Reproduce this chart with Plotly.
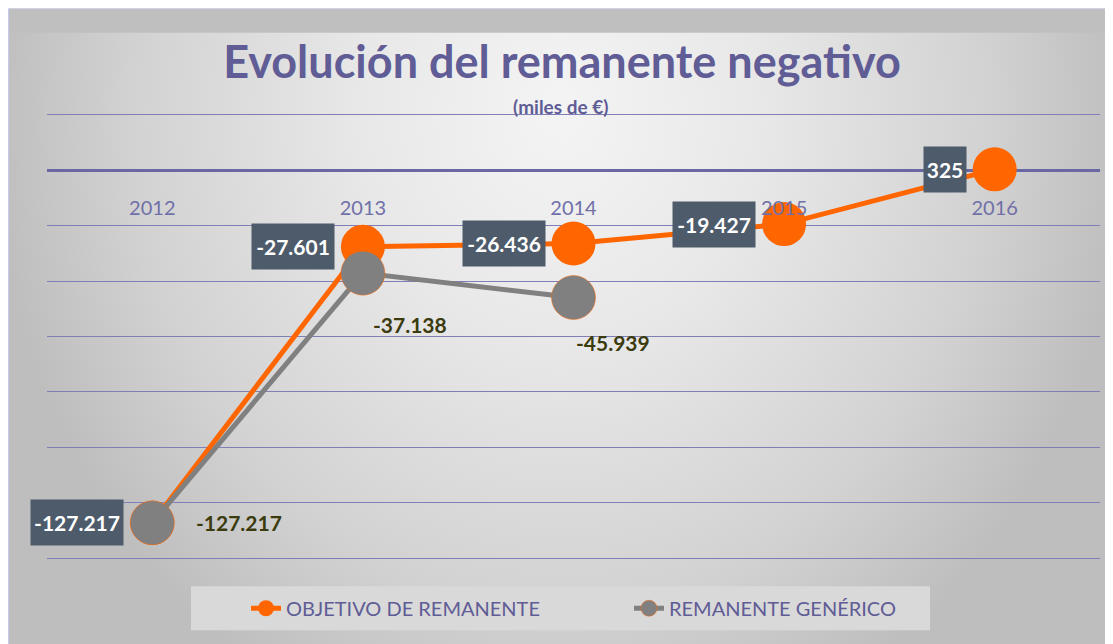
import base64
import plotly.graph_objects as go

# ---- data ----
years = ["2012", "2013", "2014", "2015", "2016"]
objetivo = [-127217, -27601, -26436, -19427, 325]
generico = [-127217, -37138, -45939, None, None]
series_names = ["OBJETIVO DE REMANENTE", "REMANENTE GENÉRICO"]
title_text = "Evolución del remanente negativo"
subtitle_text = "(miles de €)"

# ---- styles ----
ORANGE = "#FF6600"
GRAY = "#808080"
PURPLE = "#5F5C96"
GRID = "#7F7FB5"
BOX = "#4D5B6B"
OLIVE = "#3B3B0E"
gen_label_dx = [42, 8, 0]
gen_label_dy = [0, -51, -45]

YMIN, YMAX = -141000, 21000
OFF = 8  # page body margin
W, H = 1113, 644
ML, MR, MT, MB = 39, 21, 104.2, 91.2
PW, PH = W - ML - MR, H - MT - MB


def px2fx(px):  # page px -> paper fraction
    return (px - OFF - ML) / PW


def py2fy(py):
    return (H - MB - (py - OFF)) / PH


def fmt(v):
    return f"{v:,}".replace(",", ".")


svg = f"""<svg xmlns='http://www.w3.org/2000/svg' width='{W}' height='{H}' viewBox='0 0 {W} {H}' preserveAspectRatio='none'>
<defs><radialGradient id='g' gradientUnits='userSpaceOnUse' cx='552' cy='105' r='570'
 gradientTransform='translate(552,105) scale(1,1.15) translate(-552,-105)'>
<stop offset='0' stop-color='#F4F4F4'/><stop offset='0.35' stop-color='#E8E8E8'/>
<stop offset='0.75' stop-color='#D2D2D2'/><stop offset='1' stop-color='#BEBEBE'/></radialGradient></defs>
<rect width='{W}' height='{H}' fill='#BFBFBF'/>
<rect y='25' width='{W}' height='{H - 25}' fill='url(#g)'/>
<line x1='0.5' y1='0' x2='0.5' y2='{H}' stroke='#C8C8F4' stroke-width='1'/>
<line x1='0' y1='0.5' x2='{W}' y2='0.5' stroke='#D8D8F4' stroke-width='1'/>
</svg>"""
src = "data:image/svg+xml;base64," + base64.b64encode(svg.encode()).decode()

fig = go.Figure()
fig.add_trace(go.Scatter(
    x=years, y=objetivo, name=series_names[0], mode="lines+markers",
    line=dict(color=ORANGE, width=5),
    marker=dict(color=ORANGE, size=44),
))
fig.add_trace(go.Scatter(
    x=years, y=generico, name=series_names[1], mode="lines+markers",
    line=dict(color=GRAY, width=5),
    marker=dict(color=GRAY, size=44, line=dict(color=ORANGE, width=0.5)),
))

annotations = []
for i, v in enumerate(objetivo):
    t = fmt(v)
    annotations.append(dict(
        x=i, y=v, xref="x", yref="y", text=f"<b>{t}</b>", showarrow=False,
        xanchor="right", yanchor="middle", xshift=-28,
        width=10 * len(t) + 12, height=45, bgcolor=BOX, borderpad=0,
        font=dict(family="Lato", size=21, color="white"),
    ))
for i, v in enumerate(generico):
    if v is None:
        continue
    annotations.append(dict(
        x=i, y=v, xref="x", yref="y", text=f"<b>{fmt(v)}</b>", showarrow=False,
        xanchor="left", yanchor="middle", xshift=gen_label_dx[i], yshift=gen_label_dy[i],
        font=dict(family="Lato", size=21, color=OLIVE),
    ))
annotations.append(dict(
    x=px2fx(561), y=py2fy(107), xref="paper", yref="paper", text=f"<b>{subtitle_text}</b>",
    showarrow=False, xanchor="center", yanchor="middle",
    font=dict(family="Lato", size=19, color=PURPLE),
))

fig.update_layout(
    width=W, height=H,
    margin=dict(l=ML, r=MR, t=MT, b=MB),
    paper_bgcolor="#C0C0C0", plot_bgcolor="rgba(0,0,0,0)",
    title=dict(text=f"<b>{title_text}</b>", x=(562 - OFF) / W, xanchor="center",
               y=1 - (62 - OFF) / H, yanchor="middle",
               font=dict(family="Lato", size=45, color=PURPLE)),
    images=[dict(source=src, xref="paper", yref="paper", x=px2fx(OFF), y=py2fy(OFF),
                 sizex=W / PW, sizey=H / PH, sizing="stretch",
                 xanchor="left", yanchor="top", layer="below")],
    shapes=[dict(type="rect", xref="paper", yref="paper", x0=px2fx(191), x1=px2fx(930),
                 y0=py2fy(586), y1=py2fy(630), fillcolor="#D9D9D9", line=dict(width=0),
                 layer="below")],
    showlegend=True,
    legend=dict(orientation="h", x=px2fx(246), y=py2fy(608), xanchor="left", yanchor="middle",
                bgcolor="rgba(0,0,0,0)", font=dict(family="Lato", size=20, color=PURPLE),
                entrywidth=338, traceorder="normal"),
    annotations=annotations,
)
fig.update_xaxes(
    type="category", range=[-0.5, 4.5], anchor="free", position=-YMIN / (YMAX - YMIN),
    showline=False, showgrid=False, zeroline=False,
    ticks="outside", ticklen=20, tickcolor="rgba(0,0,0,0)",
    tickfont=dict(family="Lato", size=20, color="#7070A8"),
)
fig.update_yaxes(
    range=[YMIN, YMAX], tick0=0, dtick=20000, showticklabels=False,
    showgrid=True, gridcolor=GRID, gridwidth=1,
    zeroline=True, zerolinecolor="#6A68A2", zerolinewidth=2.5,
)

fig.write_html("out.html")
